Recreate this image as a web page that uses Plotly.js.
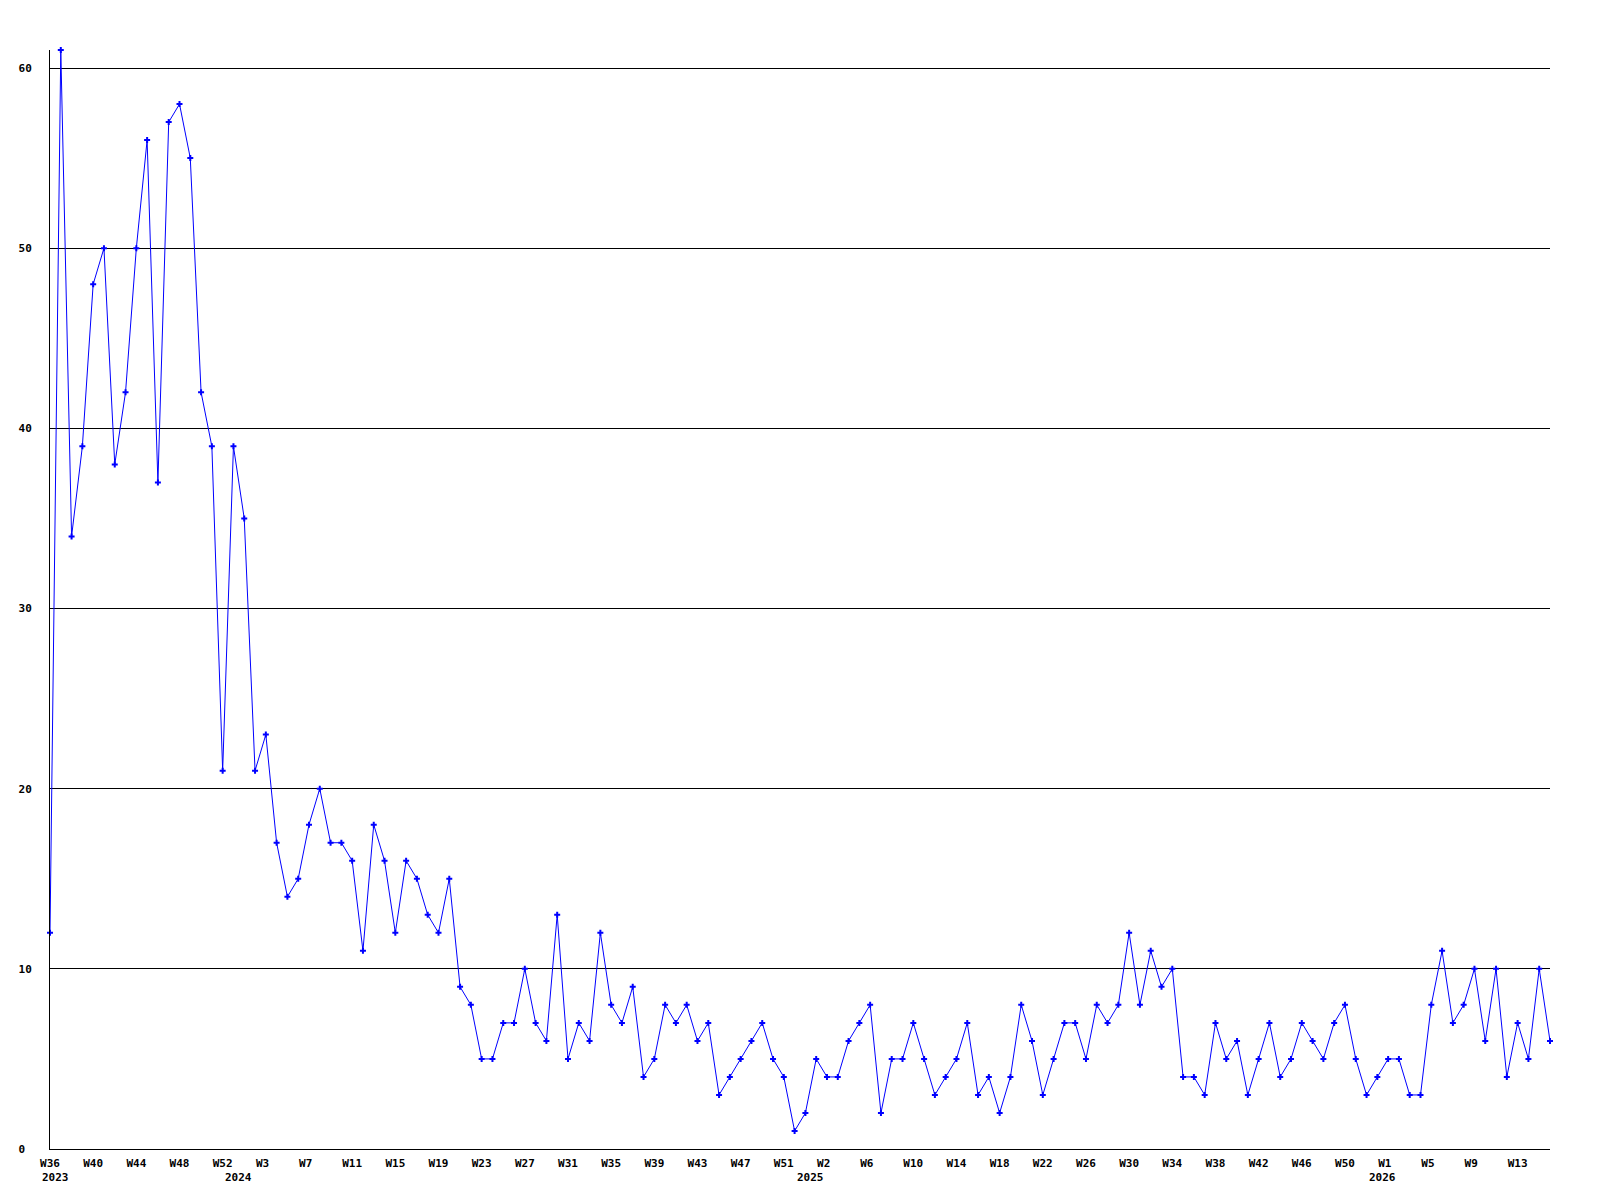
<!DOCTYPE html>
<html>
<head>
<meta charset="utf-8">
<script src="https://cdn.plot.ly/plotly-3.0.1.min.js"></script>
<style>html,body{margin:0;padding:0;background:#fff;}#chart{width:1600px;height:1200px;}</style>
</head>
<body>
<div id="chart"></div>
<script>
// Weekly counts, W36 2023 ... W16 2026 (one value per week slot)
const values = [
  12,61,34,39,48,50,38,42,50,56,37,57,58,55,42,39,21,39,35,21,
  23,17,14,15,18,20,17,17,16,11,18,16,12,16,15,13,12,15,9,8,
  5,5,7,7,10,7,6,13,5,7,6,12,8,7,9,4,5,8,7,8,
  6,7,3,4,5,6,7,5,4,1,2,5,4,4,6,7,8,2,5,5,
  7,5,3,4,5,7,3,4,2,4,8,6,3,5,7,7,5,8,7,8,
  12,8,11,9,10,4,4,3,7,5,6,3,5,7,4,5,7,6,5,7,
  8,5,3,4,5,5,3,3,8,11,7,8,10,6,10,4,7,5,10,6
];

const weekTickIndex = [0,4,8,12,16,20,24,28,32,36,40,44,48,52,56,60,64,68,72,76,80,84,88,92,96,100,104,108,112,116,120,124,128,132,136];
const weekTickText = ['W36','W40','W44','W48','W52','W3','W7','W11','W15','W19','W23','W27','W31','W35','W39','W43','W47','W51','W2','W6','W10','W14','W18','W22','W26','W30','W34','W38','W42','W46','W50','W1','W5','W9','W13'];

const yearTickIndex = [0,17,70,123];
const yearTickText = ['2023','2024','2025','2026'];

const yTickValues = [0,10,20,30,40,50,60];
const yTickText = ['0','10','20','30','40','50','60'];

const FONT = {family: 'DejaVu Sans Mono, monospace', size: 11, color: '#000', weight: 'bold'};
const NB = '\u00a0';

const xs = values.map((_, i) => i);

const trace = {
  type: 'scatter',
  mode: 'lines+markers',
  x: xs,
  y: values,
  line: {color: '#0000ff', width: 1},
  marker: {symbol: 'cross', size: 5, color: '#0000ff', line: {width: 0}},
  cliponaxis: false,
  hoverinfo: 'x+y'
};

const annotations = yearTickIndex.map((xi, k) => ({
  x: xi, y: 0, xref: 'x', yref: 'y',
  text: yearTickText[k],
  showarrow: false,
  xanchor: 'left', yanchor: 'middle',
  xshift: -10.5, yshift: -28,
  font: FONT
}));

const layout = {
  width: 1600, height: 1200,
  margin: {l: 50, r: 50, t: 50, b: 51, pad: 0},
  paper_bgcolor: '#fff', plot_bgcolor: '#fff',
  showlegend: false,
  font: FONT,
  xaxis: {
    range: [0, values.length - 1],
    showgrid: false, zeroline: false,
    showline: true, linecolor: '#000', linewidth: 1,
    tickmode: 'array',
    tickvals: weekTickIndex,
    ticktext: weekTickText.map(t => t.padEnd(3, NB)),
    ticks: '', ticklabelstandoff: 4,
    tickfont: FONT
  },
  yaxis: {
    range: [0, 61],
    showgrid: true, gridcolor: '#000', gridwidth: 1,
    zeroline: false,
    showline: true, linecolor: '#000', linewidth: 1,
    tickmode: 'array',
    tickvals: yTickValues,
    ticktext: yTickText.map(t => t.padEnd(2, NB)),
    ticks: '', ticklabelstandoff: 15,
    tickfont: FONT
  },
  annotations: annotations
};

Plotly.newPlot('chart', [trace], layout, {displayModeBar: false, staticPlot: true});
</script>
</body>
</html>
